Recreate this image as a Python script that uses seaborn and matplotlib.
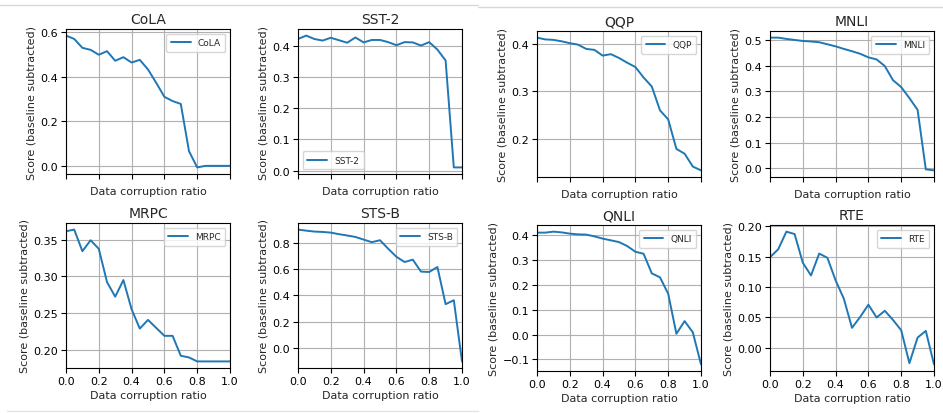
import numpy as np
import pandas as pd
import matplotlib
matplotlib.use("Agg")
import matplotlib.pyplot as plt
from matplotlib.lines import Line2D
import seaborn as sns

# Corruption ratios shared by every task
ratios = [0.0, 0.05, 0.1, 0.15, 0.2, 0.25, 0.3, 0.35, 0.4, 0.45, 0.5,
          0.55, 0.6, 0.65, 0.7, 0.75, 0.8, 0.85, 0.9, 0.95, 1.0]

cola = [0.585, 0.570, 0.530, 0.521, 0.499, 0.515, 0.472, 0.488, 0.464, 0.476, 0.433,
        0.373, 0.310, 0.291, 0.278, 0.066, -0.007, 0.0, 0.0, 0.0, 0.0]
sst2 = [0.423, 0.434, 0.423, 0.418, 0.427, 0.419, 0.411, 0.428, 0.412, 0.420, 0.420,
        0.413, 0.403, 0.413, 0.412, 0.402, 0.413, 0.389, 0.354, 0.010, 0.010]
mrpc = [0.3613, 0.3636, 0.3342, 0.3491, 0.3374, 0.2922, 0.2723, 0.2949, 0.2551, 0.2289, 0.2407,
        0.2298, 0.2190, 0.2190, 0.1919, 0.1896, 0.1842, 0.1842, 0.1842, 0.1842, 0.1842]
stsb = [0.901, 0.893, 0.886, 0.883, 0.878, 0.866, 0.856, 0.845, 0.825, 0.805, 0.820,
        0.755, 0.694, 0.654, 0.672, 0.581, 0.578, 0.616, 0.333, 0.363, -0.103]
qqp = [0.4127, 0.409, 0.408, 0.405, 0.401, 0.398, 0.389, 0.387, 0.375, 0.378, 0.370,
       0.360, 0.351, 0.329, 0.310, 0.260, 0.241, 0.179, 0.169, 0.142, 0.134]
mnli = [0.510, 0.510, 0.505, 0.501, 0.497, 0.495, 0.492, 0.484, 0.476, 0.466, 0.457,
        0.447, 0.433, 0.425, 0.399, 0.344, 0.317, 0.274, 0.228, -0.004, -0.008]
qnli = [0.410, 0.410, 0.414, 0.411, 0.406, 0.403, 0.402, 0.395, 0.386, 0.379, 0.372,
        0.356, 0.333, 0.325, 0.246, 0.230, 0.164, 0.003, 0.054, 0.009, -0.120]
rte = [0.149, 0.162, 0.191, 0.187, 0.140, 0.119, 0.155, 0.148, 0.111, 0.081, 0.033,
       0.051, 0.071, 0.050, 0.061, 0.046, 0.029, -0.025, 0.017, 0.028, -0.027]

tasks = ["CoLA", "SST-2", "MRPC", "STS-B", "QQP", "MNLI", "QNLI", "RTE"]
scores = [cola, sst2, mrpc, stsb, qqp, mnli, qnli, rte]
legend_locs = ["upper right", "lower left", "upper right", "upper right",
               "upper right", "upper right", "upper right", "upper right"]

sns.set_theme(style="ticks", rc={
    "axes.grid": True,
    "grid.color": "#b0b0b0",
    "grid.linewidth": 0.8,
    "axes.edgecolor": "black",
    "axes.linewidth": 0.8,
    "xtick.direction": "out",
    "ytick.direction": "out",
    "xtick.major.size": 3.5,
    "ytick.major.size": 3.5,
    "xtick.major.width": 0.8,
    "ytick.major.width": 0.8,
})
plt.rcParams["font.family"] = ["DejaVu Sans"]

W, H = 943, 414
fig = plt.figure(figsize=(W / 100, H / 100), dpi=100)

# pixel boxes: (left, right, top, bottom)
boxes = [
    (66, 230, 30, 175), (298, 462, 30, 175),
    (66, 230, 224, 369), (298, 462, 224, 369),
    (537, 701, 32, 178), (770, 934, 32, 178),
    (537, 701, 226, 372), (770, 934, 226, 372),
]
bottom_row = [False, False, True, True, False, False, True, True]

for task, vals, loc, (l, r, t, b), show_x in zip(tasks, scores, legend_locs, boxes, bottom_row):
    ax = fig.add_axes([l / W, 1 - b / H, (r - l) / W, (b - t) / H])
    df = pd.DataFrame({"ratio": ratios, "score": vals})
    sns.lineplot(data=df, x="ratio", y="score", ax=ax, color="#1f77b4",
                 linewidth=1.4, label=task)
    ax.set_xlim(0, 1)
    ax.set_xticks([0.0, 0.2, 0.4, 0.6, 0.8, 1.0])
    if show_x:
        ax.set_xticklabels(["0.0", "0.2", "0.4", "0.6", "0.8", "1.0"])
    else:
        ax.set_xticklabels([])
    ax.tick_params(labelsize=8, pad=2, colors="black")
    ax.set_xlabel("Data corruption ratio", fontsize=8, labelpad=3)
    ax.set_ylabel("Score (baseline subtracted)", fontsize=8, labelpad=3)
    ax.set_title(task, fontsize=10, pad=4)
    for s in ax.spines.values():
        s.set_visible(True)
        s.set_color("black")
    leg = ax.legend(loc=loc, fontsize=6.5, frameon=True, handlelength=2.2,
                    borderpad=0.5)
    leg.get_frame().set_edgecolor("#cccccc")
    leg.get_frame().set_alpha(0.8)

# thin divider rules between the two panel groups
fig.add_artist(Line2D([0, 478 / W], [1 - 6 / H, 1 - 6 / H], color="#d8d8d8", linewidth=1))
fig.add_artist(Line2D([478 / W, 1], [1 - 7.5 / H, 1 - 7.5 / H], color="#d8d8d8", linewidth=1))
fig.add_artist(Line2D([7 / W, 478 / W], [1 - 412 / H, 1 - 412 / H], color="#e4e4e4", linewidth=1))

fig.savefig("out.png", dpi=100)
